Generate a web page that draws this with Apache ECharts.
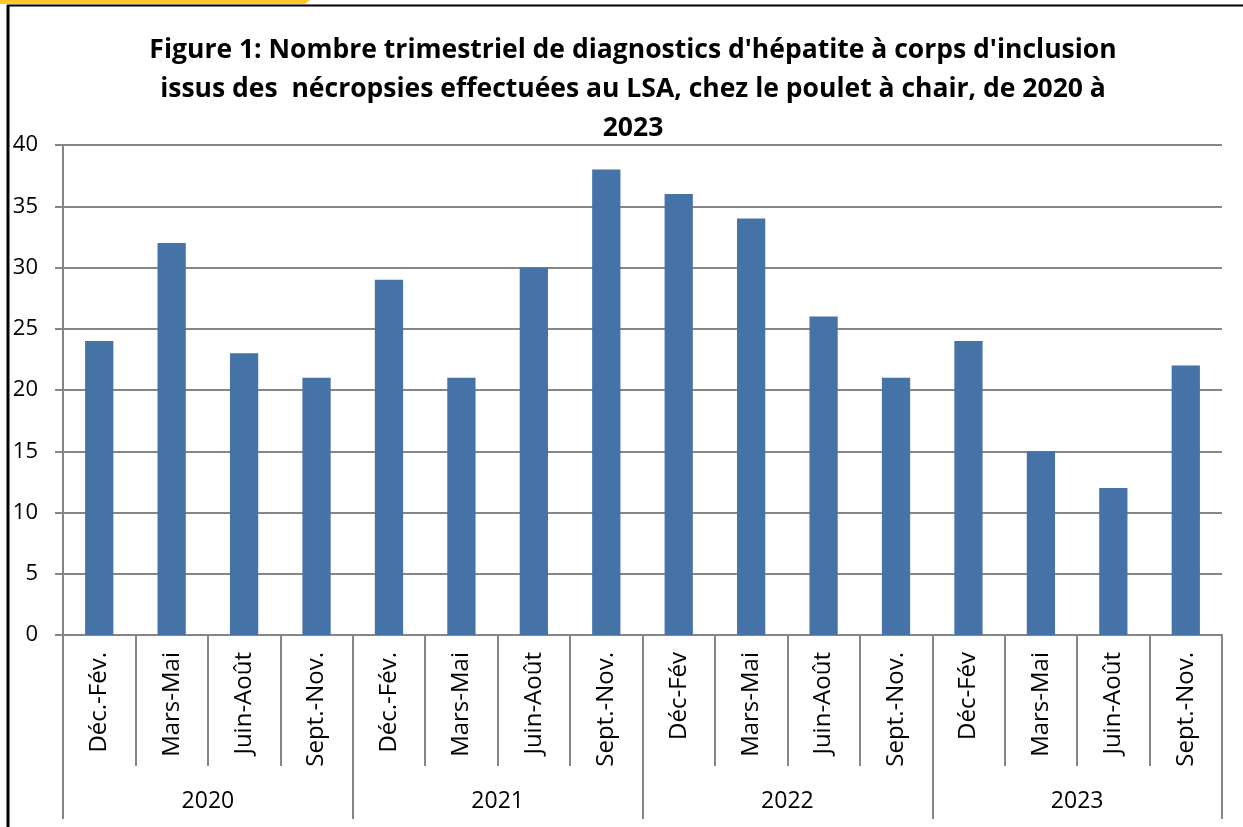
<!DOCTYPE html>
<html>
<head>
<meta charset="utf-8">
<script src="https://cdn.jsdelivr.net/npm/echarts@6/dist/echarts.min.js"></script>
<style>html,body{margin:0;padding:0;background:#fff;}#c{width:1243px;height:827px;}</style>
</head>
<body>
<div id="c"></div>
<script>
const quarters = ['Déc.-Fév.','Mars-Mai','Juin-Août','Sept.-Nov.','Déc.-Fév.','Mars-Mai','Juin-Août','Sept.-Nov.','Déc-Fév','Mars-Mai','Juin-Août','Sept.-Nov.','Déc-Fév','Mars-Mai','Juin-Août','Sept.-Nov.'];
const years = ['2020','2021','2022','2023'];
const values = [24,32,23,21,29,21,30,38,36,34,26,21,24,15,12,22];
const titleText = "Figure 1: Nombre trimestriel de diagnostics d'hépatite à corps d'inclusion\nissus des  nécropsies effectuées au LSA, chez le poulet à chair, de 2020 à\n2023";

const font = '"Open Sans", Lato, sans-serif';
const chart = echarts.init(document.getElementById('c'), null, {renderer:'canvas'});
chart.setOption({
  animation:false,
  backgroundColor:'#fff',
  title:{
    text:titleText, left:628, top:26, textAlign:'center',
    textStyle:{fontFamily:font, fontWeight:'bold', fontSize:26.5, lineHeight:39, color:'#000'}
  },
  grid:{left:63, right:21, top:145, bottom:192, containLabel:false},
  xAxis:[{
    type:'category', data:quarters, position:'bottom',
    axisLine:{show:true, lineStyle:{color:'#868686', width:2}},
    axisTick:{show:true, interval:0, length:131, lineStyle:{color:'#868686', width:2}},
    axisLabel:{interval:0, rotate:90, margin:17, fontFamily:font, fontSize:24, color:'#000'}
  },{
    type:'category', data:years, position:'bottom', offset:0,
    axisLine:{show:false},
    axisTick:{show:true, interval:0, length:184, lineStyle:{color:'#868686', width:2}},
    axisLabel:{interval:0, margin:155, fontFamily:font, fontSize:23, color:'#000'}
  }],
  yAxis:{
    type:'value', min:0, max:40, interval:5,
    axisLine:{show:true, lineStyle:{color:'#868686', width:2}},
    axisTick:{show:true, length:8, lineStyle:{color:'#868686', width:2}},
    axisLabel:{margin:25, fontFamily:font, fontSize:22, color:'#000'},
    splitLine:{show:true, lineStyle:{color:'#868686', width:2}}
  },
  series:[{
    type:'bar', data:values, xAxisIndex:0, barWidth:'39%',
    itemStyle:{color:'#4572A7'}
  }],
  graphic:[
    {type:'polygon', shape:{points:[[0,0],[310,0],[305,4],[0,4]]}, style:{fill:'#FFC72C'}},
    {type:'line', shape:{x1:7, y1:5.5, x2:1243, y2:5.5}, style:{stroke:'#000', lineWidth:2}},
    {type:'line', shape:{x1:8, y1:5, x2:8, y2:827}, style:{stroke:'#000', lineWidth:3}}
  ]
});
</script>
</body>
</html>
